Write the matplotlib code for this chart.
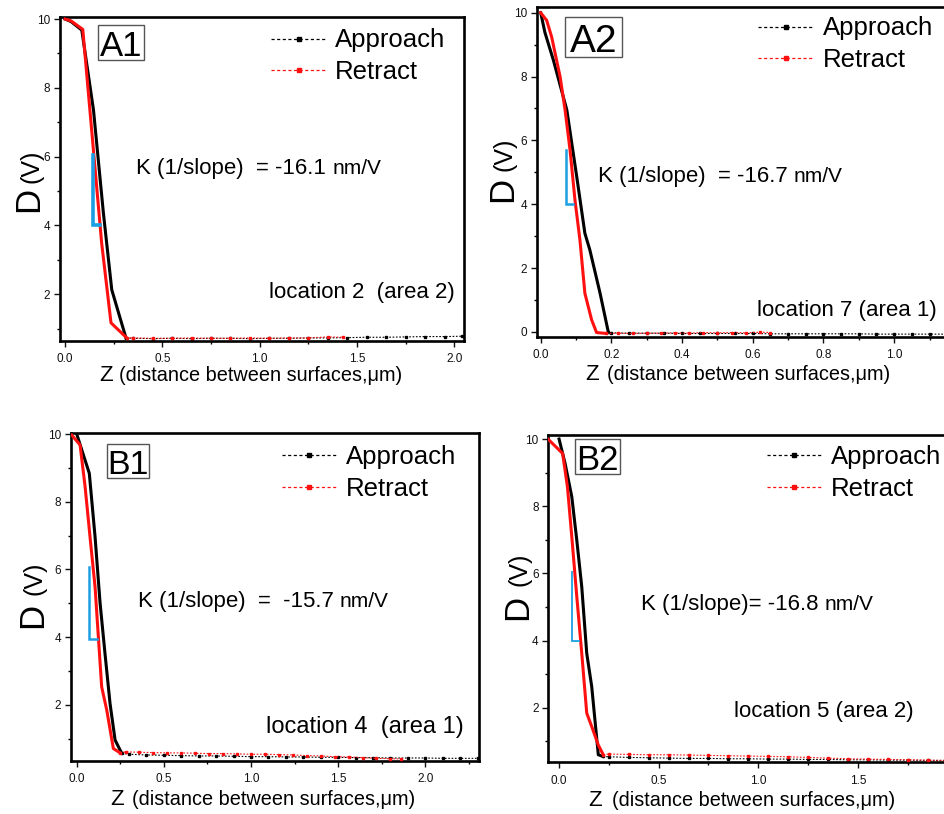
import matplotlib
matplotlib.use("Agg")
import matplotlib.pyplot as plt
from matplotlib.lines import Line2D
from matplotlib.patches import Rectangle
from matplotlib.ticker import MultipleLocator, FormatStrFormatter

plt.rcParams['font.family'] = ['Liberation Sans', 'DejaVu Sans']

W, H = 944, 814

# ---------------- data ----------------
# A1
a1_app_z = [0.0, 0.03, 0.086, 0.146, 0.197, 0.24, 0.313]
a1_app_d = [10.0, 9.93, 9.68, 7.36, 4.36, 2.13, 0.73]
a1_app_tail_z = [0.35, 0.45, 0.55, 0.65, 0.75, 0.85, 0.95, 1.05, 1.15, 1.25, 1.35, 1.45, 1.55, 1.65, 1.75, 1.85, 1.95, 2.04]
a1_app_tail_d = [0.72, 0.71, 0.72, 0.71, 0.72, 0.72, 0.71, 0.72, 0.72, 0.73, 0.73, 0.74, 0.75, 0.75, 0.76, 0.77, 0.77, 0.78]
a1_ret_z = [0.0, 0.03, 0.091, 0.188, 0.236, 0.317]
a1_ret_d = [10.0, 9.95, 9.7, 3.49, 1.17, 0.73]
a1_ret_tail_z = [0.35, 0.45, 0.55, 0.65, 0.75, 0.85, 0.95, 1.05, 1.15, 1.25, 1.35, 1.43]
a1_ret_tail_d = [0.73, 0.72, 0.72, 0.73, 0.72, 0.72, 0.73, 0.72, 0.73, 0.73, 0.76, 0.75]

# A2
a2_app_z = [0.0, 0.012, 0.036, 0.074, 0.102, 0.125, 0.139, 0.168, 0.191]
a2_app_d = [10.0, 9.38, 8.51, 6.95, 4.86, 3.09, 2.57, 1.21, 0.01]
a2_app_tail_z = [0.2, 0.25, 0.3, 0.35, 0.4, 0.45, 0.5, 0.55, 0.6, 0.65, 0.7, 0.75, 0.8, 0.85, 0.9, 0.95, 1.0, 1.05, 1.1, 1.15, 1.2]
a2_app_tail_d = [-0.03, -0.04, -0.04, -0.04, -0.05, -0.05, -0.05, -0.05, -0.05, -0.06, -0.06, -0.06, -0.06, -0.06, -0.06, -0.07, -0.07, -0.07, -0.07, -0.07, -0.07]
a2_ret_z = [0.0, 0.017, 0.031, 0.055, 0.069, 0.083, 0.097, 0.111, 0.125, 0.144, 0.158, 0.186]
a2_ret_d = [10.0, 9.76, 9.24, 7.99, 6.95, 5.70, 4.13, 2.88, 1.21, 0.38, -0.02, -0.05]
a2_ret_tail_z = [0.22, 0.26, 0.3, 0.34, 0.38, 0.42, 0.46, 0.5, 0.54, 0.58, 0.62, 0.65]
a2_ret_tail_d = [-0.04, -0.05, -0.04, -0.04, -0.03, -0.04, -0.02, -0.03, -0.02, -0.03, -0.01, -0.02]

# B1
b1_app_z = [0.0, 0.029, 0.072, 0.105, 0.134, 0.162, 0.191, 0.22, 0.258]
b1_app_d = [10.0, 9.53, 8.84, 6.97, 5.0, 3.52, 2.04, 0.96, 0.57]
b1_app_tail_z = [0.3, 0.4, 0.5, 0.6, 0.7, 0.8, 0.9, 1.0, 1.1, 1.2, 1.3, 1.4, 1.5, 1.6, 1.7, 1.8, 1.9, 2.0, 2.1, 2.2, 2.3]
b1_app_tail_d = [0.54, 0.52, 0.51, 0.5, 0.49, 0.49, 0.48, 0.47, 0.47, 0.46, 0.46, 0.45, 0.45, 0.44, 0.44, 0.43, 0.43, 0.43, 0.42, 0.42, 0.42]
b1_ret_z = [-0.029, 0.019, 0.048, 0.076, 0.105, 0.124, 0.143, 0.172, 0.21, 0.249]
b1_ret_d = [9.97, 9.68, 8.44, 6.97, 5.49, 4.01, 2.53, 1.85, 0.71, 0.58]
b1_ret_tail_z = [0.28, 0.36, 0.44, 0.52, 0.6, 0.68, 0.76, 0.84, 0.92, 1.0, 1.08, 1.16, 1.24, 1.32, 1.4, 1.48, 1.56, 1.64, 1.72, 1.8, 1.86]
b1_ret_tail_d = [0.61, 0.6, 0.59, 0.58, 0.58, 0.57, 0.56, 0.56, 0.55, 0.54, 0.54, 0.53, 0.52, 0.5, 0.49, 0.47, 0.46, 0.44, 0.42, 0.41, 0.40]

# B2
b2_app_z = [0.0, 0.03, 0.064, 0.089, 0.114, 0.139, 0.164, 0.197, 0.22]
b2_app_d = [10.0, 9.28, 8.28, 6.99, 5.6, 3.62, 2.63, 0.6, 0.55]
b2_app_tail_z = [0.25, 0.35, 0.45, 0.55, 0.65, 0.75, 0.85, 0.95, 1.05, 1.15, 1.25, 1.35, 1.45, 1.55, 1.65, 1.75, 1.85, 1.95]
b2_app_tail_d = [0.54, 0.52, 0.51, 0.5, 0.49, 0.49, 0.48, 0.48, 0.47, 0.47, 0.46, 0.46, 0.45, 0.45, 0.44, 0.44, 0.43, 0.43]
b2_ret_z = [-0.054, 0.018, 0.042, 0.064, 0.089, 0.114, 0.139, 0.164, 0.197, 0.222]
b2_ret_d = [9.99, 9.57, 8.58, 7.09, 5.31, 3.62, 1.84, 1.44, 0.89, 0.6]
b2_ret_tail_z = [0.25, 0.35, 0.45, 0.55, 0.65, 0.75, 0.85, 0.95, 1.05, 1.15, 1.25, 1.35, 1.45, 1.55, 1.65, 1.75, 1.85, 1.95]
b2_ret_tail_d = [0.62, 0.61, 0.6, 0.6, 0.59, 0.58, 0.57, 0.56, 0.55, 0.54, 0.52, 0.5, 0.48, 0.47, 0.46, 0.45, 0.44, 0.43]

# slope brackets
a1_br_z = [0.145, 0.145, 0.18]
a1_br_d = [6.05, 4.0, 4.0]
a2_br_z = [0.0707, 0.0707, 0.092]
a2_br_d = [5.71, 4.0, 4.0]
b1_br_z = [0.072, 0.072, 0.118]
b1_br_d = [6.08, 3.94, 3.94]
b2_br_z = [0.065, 0.065, 0.102]
b2_br_d = [6.05, 3.99, 3.99]

panel_names = ["A1", "A2", "B1", "B2"]
k_texts = ["K (1/slope)  = -16.1", "K (1/slope)  = -16.7", "K (1/slope)  =  -15.7", "K (1/slope)= -16.8"]
loc_texts = ["location 2  (area 2)", "location 7 (area 1)", "location 4  (area 1)", "location 5 (area 2)"]
legend_labels = ["Approach", "Retract"]

# ---------------- layout (pixels) ----------------
panels = [
    dict(name="A1", rect=(60, 17, 464, 340.7), xlim=(-0.026, 2.05), ylim=(0.65, 10.06), xmaj=0.5,
         app=(a1_app_z, a1_app_d, a1_app_tail_z, a1_app_tail_d),
         ret=(a1_ret_z, a1_ret_d, a1_ret_tail_z, a1_ret_tail_d),
         br=(a1_br_z, a1_br_d), brlw=2.6,
         box=(98, 25, 144, 60), lab=(121, 56, 25),
         leg=(271, 28.5), k=(136, 174.3), loc=(269.3, 297.7, 16),
         D=(38.3, 211.7, 150), Z=(99, 381, 119)),
    dict(name="A2", rect=(536.7, 7.3, 957.8, 337), xlim=(-0.0113, 1.18), ylim=(-0.16, 10.17), xmaj=0.2,
         app=(a2_app_z, a2_app_d, a2_app_tail_z, a2_app_tail_d),
         ret=(a2_ret_z, a2_ret_d, a2_ret_tail_z, a2_ret_tail_d),
         br=(a2_br_z, a2_br_d), brlw=1.8,
         box=(565, 16.7, 622.3, 57.3), lab=(593.7, 51.7, 28),
         leg=(758.3, 16.5), k=(597.7, 181.7), loc=(756.7, 316, 16),
         D=(511.7, 201.7, 138), Z=(585, 380, 606.7)),
    dict(name="B1", rect=(71, 432.7, 479.3, 760.7), xlim=(-0.033, 2.31), ylim=(0.35, 10.04), xmaj=0.5,
         app=(b1_app_z, b1_app_d, b1_app_tail_z, b1_app_tail_d),
         ret=(b1_ret_z, b1_ret_d, b1_ret_tail_z, b1_ret_tail_d),
         br=(b1_br_z, b1_br_d), brlw=1.8,
         box=(106.7, 444, 149, 478.3), lab=(127.8, 474.3, 24.5),
         leg=(281.7, 445), k=(137.7, 606.7), loc=(265.7, 733.3, 17),
         D=(41.7, 628.3, 561.7), Z=(110, 805, 131.7)),
    dict(name="B2", rect=(548.3, 435, 953.4, 762.3), xlim=(-0.054, 1.98), ylim=(0.375, 10.12), xmaj=0.5,
         app=(b2_app_z, b2_app_d, b2_app_tail_z, b2_app_tail_d),
         ret=(b2_ret_z, b2_ret_d, b2_ret_tail_z, b2_ret_tail_d),
         br=(b2_br_z, b2_br_d), brlw=1.3,
         box=(575, 439.3, 620, 474), lab=(597.5, 470, 25),
         leg=(766.7, 445), k=(640.7, 610), loc=(734, 716.7, 16),
         D=(526.7, 620, 553), Z=(588.3, 806, 611.7)),
]

fig = plt.figure(figsize=(W / 100, H / 100), dpi=100)
fig.patch.set_facecolor("white")


def fx(x):
    return x / W


def fy(y):
    return 1 - y / H


BLUE = "#1c9fe2"
RED = "#ff1010"

for i, p in enumerate(panels):
    l, t, r, b = p["rect"]
    ax = fig.add_axes([fx(l), fy(b), (r - l) / W, (b - t) / H])
    ax.set_xlim(*p["xlim"])
    ax.set_ylim(*p["ylim"])
    for s in ax.spines.values():
        s.set_linewidth(1.9)
    ax.xaxis.set_major_locator(MultipleLocator(p["xmaj"]))
    ax.xaxis.set_minor_locator(MultipleLocator(p["xmaj"] / 2))
    ax.yaxis.set_major_locator(MultipleLocator(2))
    ax.yaxis.set_minor_locator(MultipleLocator(1))
    ax.xaxis.set_major_formatter(FormatStrFormatter("%.1f"))
    ax.yaxis.set_major_formatter(FormatStrFormatter("%d"))
    ax.tick_params(which="major", direction="out", length=4, width=1.0, labelsize=8.5,
                   colors="#111111", pad=3)
    ax.tick_params(which="minor", direction="out", length=2.5, width=1.0)
    ax.tick_params(axis="x", which="major", pad=5)

    # approach
    az, ad, atz, atd = p["app"]
    ax.plot(az, ad, color="black", lw=2.2, solid_joinstyle="round", zorder=3)
    ax.plot([az[-1]] + atz, [ad[-1]] + atd, color="black", lw=0.8, ls=(0, (1.5, 1.5)),
            marker="s", ms=2.0, zorder=3)
    # retract
    rz, rd, rtz, rtd = p["ret"]
    ax.plot(rz, rd, color=RED, lw=2.2, solid_joinstyle="round", zorder=4)
    ax.plot([rz[-1]] + rtz, [rd[-1]] + rtd, color=RED, lw=0.8, ls=(0, (1.5, 1.5)),
            marker="s", ms=2.0, zorder=4)
    # slope bracket
    bz, bd = p["br"]
    ax.plot(bz, bd, color=BLUE, lw=p["brlw"], zorder=5, solid_joinstyle="miter")

    # legend
    handles = [
        Line2D([0], [0], color="black", lw=0.9, ls=(0, (2.5, 2)), marker="s", ms=3),
        Line2D([0], [0], color=RED, lw=0.9, ls=(0, (2.5, 2)), marker="s", ms=3),
    ]
    lx, ly = p["leg"]
    ax.legend(handles, legend_labels, loc="upper left", bbox_to_anchor=(fx(lx), fy(ly)),
              bbox_transform=fig.transFigure, frameon=False, fontsize=18.5,
              handlelength=2.15, handletextpad=0.35, labelspacing=0.3, borderpad=0,
              borderaxespad=0, numpoints=1)

    # panel label with box
    x0, y0, x1, y1 = p["box"]
    fig.patches.append(Rectangle((fx(x0), fy(y1)), (x1 - x0) / W, (y1 - y0) / H,
                                 transform=fig.transFigure, fill=True, fc="white",
                                 ec="#555555", lw=1.0, zorder=6))
    cx, by, fs = p["lab"]
    fig.text(fx(cx), fy(by), p["name"], ha="center", va="baseline", fontsize=fs, zorder=7)

    # slope annotation: main part, then a slightly smaller unit right after it
    kx, ky = p["k"]
    kt = fig.text(fx(kx), fy(ky), k_texts[i], ha="left", va="baseline", fontsize=16)
    ax.annotate("nm/V", xy=(1.0, fy(ky)), xycoords=(kt, fig.transFigure),
                xytext=(4.5, 0), textcoords="offset points", ha="left", va="baseline",
                fontsize=15, annotation_clip=False)

    # location
    ox, oy, ofs = p["loc"]
    fig.text(fx(ox), fy(oy), loc_texts[i], ha="left", va="baseline", fontsize=ofs)

    # y label
    dx, dy, vy = p["D"]
    fig.text(fx(dx), fy(dy), "D", rotation=90, rotation_mode="anchor", ha="left",
             va="baseline", fontsize=25)
    fig.text(fx(dx), fy(vy), "(V)", rotation=90, rotation_mode="anchor", ha="right",
             va="baseline", fontsize=18)

    # x label
    zx, zy, tx = p["Z"]
    fig.text(fx(zx), fy(zy), "Z", ha="left", va="baseline", fontsize=16)
    fig.text(fx(tx), fy(zy), "(distance between surfaces,\u03bcm)", ha="left", va="baseline",
             fontsize=14.3)

fig.savefig("out.png", dpi=100)
